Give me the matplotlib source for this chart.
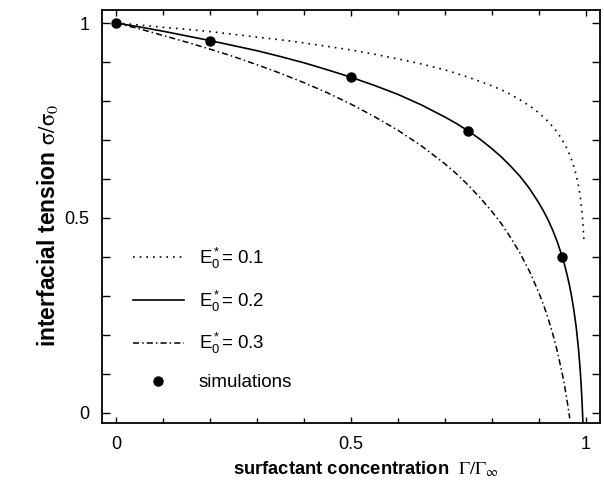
import matplotlib
matplotlib.use('Agg')
import matplotlib.pyplot as plt
from matplotlib.ticker import MultipleLocator

plt.rcParams['font.family'] = ['Liberation Sans', 'DejaVu Sans']
plt.rcParams['mathtext.fontset'] = 'stix'

# values
x_01 = [0, 0.05, 0.1, 0.15, 0.2, 0.25, 0.3, 0.35, 0.4, 0.45, 0.5, 0.55, 0.6, 0.65,
        0.7, 0.75, 0.8, 0.82, 0.84, 0.86, 0.88, 0.9, 0.91, 0.92, 0.93, 0.94, 0.95,
        0.955, 0.96, 0.965, 0.97, 0.975, 0.98, 0.985, 0.988, 0.99, 0.992, 0.994,
        0.996, 0.9965]
y_01 = [1.000, 0.995, 0.989, 0.984, 0.978, 0.971, 0.964, 0.957, 0.949, 0.940,
        0.931, 0.920, 0.908, 0.895, 0.880, 0.861, 0.839, 0.829, 0.817, 0.803,
        0.788, 0.770, 0.759, 0.747, 0.734, 0.719, 0.700, 0.690, 0.678, 0.665,
        0.649, 0.631, 0.609, 0.580, 0.558, 0.539, 0.517, 0.488, 0.448, 0.435]

x_02 = [0, 0.05, 0.1, 0.15, 0.2, 0.25, 0.3, 0.35, 0.4, 0.45, 0.5, 0.55, 0.6, 0.65,
        0.7, 0.725, 0.75, 0.775, 0.8, 0.82, 0.84, 0.86, 0.88, 0.9, 0.91, 0.92,
        0.93, 0.94, 0.95, 0.955, 0.96, 0.965, 0.97, 0.975, 0.98, 0.985, 0.988,
        0.99, 0.992, 0.993, 0.9942]
y_02 = [1.000, 0.990, 0.979, 0.967, 0.955, 0.942, 0.929, 0.914, 0.898, 0.880,
        0.861, 0.840, 0.817, 0.790, 0.759, 0.742, 0.723, 0.702, 0.678, 0.657,
        0.633, 0.607, 0.576, 0.539, 0.518, 0.495, 0.468, 0.437, 0.401, 0.380,
        0.356, 0.330, 0.299, 0.262, 0.218, 0.160, 0.115, 0.079, 0.034, 0.008,
        -0.030]

x_03 = [0, 0.05, 0.1, 0.15, 0.2, 0.25, 0.3, 0.35, 0.4, 0.45, 0.5, 0.55, 0.6, 0.65,
        0.7, 0.725, 0.75, 0.775, 0.8, 0.82, 0.84, 0.86, 0.88, 0.9, 0.91, 0.92,
        0.93, 0.94, 0.95, 0.955, 0.96, 0.963, 0.966]
y_03 = [1.000, 0.985, 0.968, 0.951, 0.933, 0.914, 0.893, 0.871, 0.847, 0.821,
        0.792, 0.760, 0.725, 0.685, 0.639, 0.613, 0.584, 0.552, 0.517, 0.486,
        0.450, 0.410, 0.364, 0.309, 0.278, 0.242, 0.202, 0.156, 0.101, 0.070,
        0.034, 0.011, -0.014]

sim_x = [0, 0.2, 0.5, 0.75, 0.95]
sim_y = [1.0, 0.955, 0.861, 0.722, 0.40]

labels = [r'$\mathregular{E_0^*}$= 0.1', r'$\mathregular{E_0^*}$= 0.2',
          r'$\mathregular{E_0^*}$= 0.3', 'simulations']

fig = plt.figure(figsize=(6.04, 4.84), dpi=100)
ax = fig.add_axes([0.169, 0.126, 0.824, 0.853])

ax.plot(x_01, y_01, color='black', lw=1.2, linestyle=(0, (1, 3)), label=labels[0])
ax.plot(x_02, y_02, color='black', lw=1.2, linestyle='-', label=labels[1])
ax.plot(x_03, y_03, color='black', lw=1.1, linestyle=(0, (4, 2, 1, 2)), label=labels[2])
ax.plot(sim_x, sim_y, 'o', color='black', ms=6.5, label=labels[3], zorder=5)

ax.set_xlim(-0.03, 1.03)
ax.set_ylim(-0.026, 1.033)

ax.xaxis.set_major_locator(MultipleLocator(0.5))
ax.yaxis.set_major_locator(MultipleLocator(0.5))
ax.xaxis.set_minor_locator(MultipleLocator(0.1))
ax.yaxis.set_minor_locator(MultipleLocator(0.1))
ax.xaxis.set_major_formatter(plt.FuncFormatter(lambda v, p: '%g' % v))
ax.yaxis.set_major_formatter(plt.FuncFormatter(lambda v, p: '%g' % v))
ax.tick_params(which='both', direction='in', top=True, right=True, labelsize=13, width=1)
ax.tick_params(axis='y', which='both', length=6, pad=9)
ax.tick_params(axis='x', which='major', length=4.5, pad=9)
ax.tick_params(axis='x', which='minor', length=3.5)
for s in ax.spines.values():
    s.set_linewidth(1.3)

ax.set_xlabel(r'surfactant concentration  $\Gamma/\Gamma_\infty$',
              fontsize=13.2, fontweight='bold', labelpad=5)
ax.xaxis.label.set_x(0.53)
ax.set_ylabel(r'interfacial tension $\mathrm{\sigma}/\mathrm{\sigma}_0$',
              fontsize=16.5, fontweight='bold', labelpad=3)
ax.yaxis.label.set_y(0.48)

ax.legend(loc='upper left', bbox_to_anchor=(0.062, 0.43), frameon=False,
          borderpad=0, borderaxespad=0,
          fontsize=13.5, handlelength=2.7, labelspacing=0.95, handletextpad=0.8)

fig.savefig('out.png', dpi=100)
